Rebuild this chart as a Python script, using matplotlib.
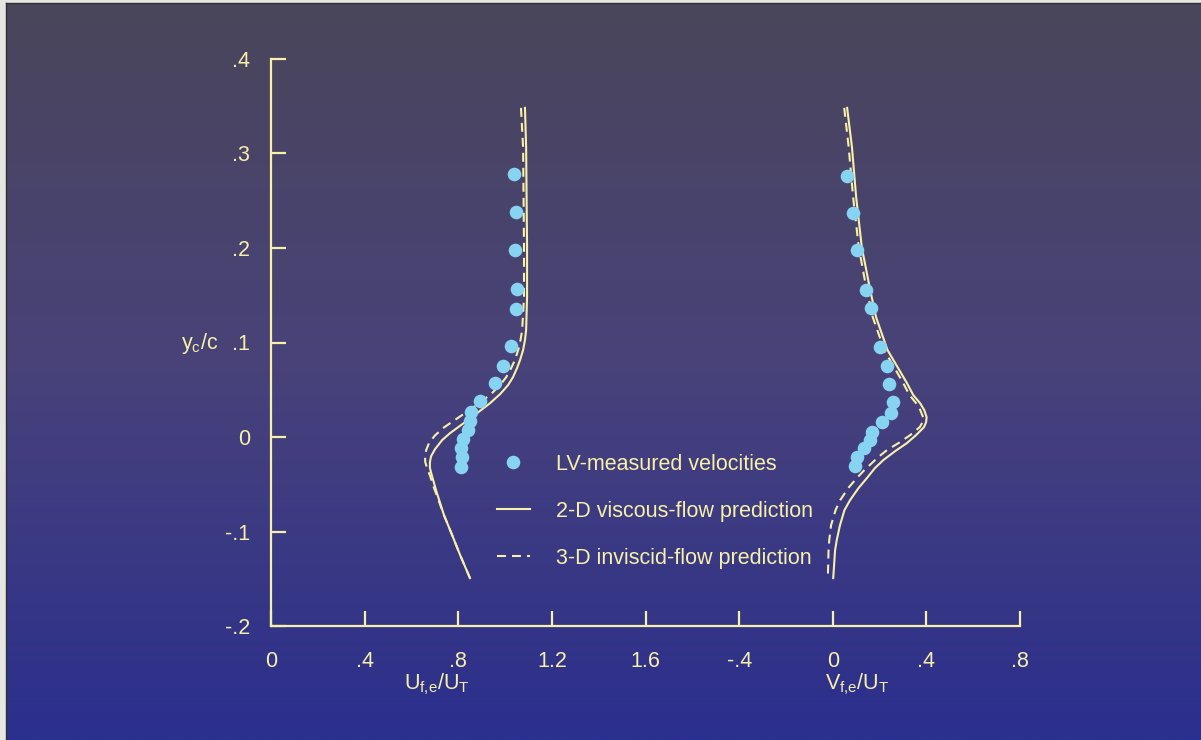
import numpy as np
import matplotlib
matplotlib.use("Agg")
import matplotlib.pyplot as plt
from matplotlib.colors import LinearSegmentedColormap
from matplotlib.lines import Line2D

plt.rcParams['font.family'] = ['Liberation Sans', 'DejaVu Sans']
plt.rcParams['mathtext.fontset'] = 'custom'
plt.rcParams['mathtext.rm'] = 'Liberation Sans'
plt.rcParams['mathtext.it'] = 'Liberation Sans'
plt.rcParams['mathtext.default'] = 'regular'

# ---------------- data ----------------
# LV-measured velocities
meas_y = [0.2777, 0.2375, 0.1974, 0.1564, 0.1353, 0.0962, 0.0754, 0.0568,
          0.0377, 0.0267, 0.0172, 0.0074, -0.0018, -0.0113, -0.0215, -0.0314]
meas_u = [1.040, 1.047, 1.041, 1.053, 1.048, 1.026, 0.993, 0.956,
          0.894, 0.856, 0.850, 0.841, 0.822, 0.812, 0.815, 0.813]
meas_vy = [0.276, 0.237, 0.198, 0.155, 0.136, 0.095, 0.075, 0.056,
           0.037, 0.025, 0.016, 0.005, -0.003, -0.012, -0.021, -0.031]
meas_v = [0.060, 0.086, 0.103, 0.144, 0.164, 0.203, 0.232, 0.242,
          0.257, 0.251, 0.211, 0.168, 0.161, 0.135, 0.103, 0.097]

# 2-D viscous-flow prediction
visc_uy = [0.348, 0.3066, 0.2008, 0.148, 0.1131, 0.1025, 0.092, 0.0814, 0.0729,
           0.0634, 0.055, 0.0455, 0.0359, 0.0285, 0.0211, 0.0127, 0.0042,
           -0.0032, -0.0127, -0.0201, -0.0264, -0.0328, -0.0412, -0.0560,
           -0.0825, -0.1036, -0.1247, -0.149]
visc_u = [1.085, 1.090, 1.094, 1.094, 1.090, 1.085, 1.077, 1.064, 1.051,
          1.034, 1.013, 0.979, 0.936, 0.897, 0.859, 0.812, 0.765,
          0.731, 0.701, 0.684, 0.679, 0.679, 0.688, 0.705,
          0.739, 0.774, 0.808, 0.850]
visc_vy = [0.348, 0.3066, 0.2537, 0.2008, 0.1554, 0.1268, 0.092, 0.0571,
           0.0444, 0.0359, 0.0285, 0.0211, 0.0159, 0.0106, 0.0021, -0.0063,
           -0.0148, -0.0243, -0.0328, -0.0433, -0.0539, -0.0666, -0.0772,
           -0.0930, -0.1089, -0.1195, -0.149]
visc_v = [0.0615, 0.082, 0.100, 0.124, 0.160, 0.185, 0.234, 0.317,
          0.344, 0.373, 0.391, 0.401, 0.399, 0.390, 0.356, 0.317,
          0.267, 0.216, 0.180, 0.146, 0.110, 0.074, 0.050,
          0.031, 0.017, 0.010, 0.002]

# 3-D inviscid-flow prediction
invi_uy = [0.348, 0.3066, 0.2008, 0.148, 0.1131, 0.1025, 0.092, 0.0814, 0.0729,
           0.0634, 0.055, 0.0455, 0.0391, 0.0321, 0.0254, 0.0175, 0.0095,
           0.0016, -0.0063, -0.0137, -0.0201, -0.0264, -0.0328, -0.0412,
           -0.0507, -0.0825, -0.1036, -0.1247, -0.149]
invi_u = [1.068, 1.077, 1.081, 1.081, 1.073, 1.066, 1.056, 1.042, 1.026,
          1.005, 0.979, 0.940, 0.906, 0.868, 0.829, 0.782, 0.735,
          0.700, 0.675, 0.663, 0.658, 0.659, 0.667, 0.680,
          0.692, 0.739, 0.774, 0.808, 0.850]
invi_vy = [0.348, 0.3066, 0.2537, 0.2008, 0.1554, 0.1268, 0.092, 0.0571,
           0.0444, 0.0359, 0.0285, 0.0211, 0.0159, 0.0106, 0.0021, -0.0063,
           -0.0137, -0.0206, -0.0275, -0.0354, -0.0433, -0.0539, -0.0666,
           -0.0772, -0.0930, -0.1089, -0.1195, -0.149]
invi_v = [0.049, 0.068, 0.087, 0.111, 0.145, 0.171, 0.220, 0.301,
          0.328, 0.356, 0.374, 0.386, 0.384, 0.372, 0.331, 0.281,
          0.232, 0.197, 0.167, 0.133, 0.103, 0.066, 0.032,
          0.012, -0.007, -0.015, -0.018, -0.021]

x_ticklabels = ['0', '.4', '.8', '1.2', '1.6', '-.4', '0', '.4', '.8']
y_ticklabels = ['-.2', '-.1', '0', '.1', '.2', '.3', '.4']
V_OFFSET = 2.4  # V panel shares the axis, shifted right

# ---------------- styling ----------------
W, H = 1201, 740
CREAM = '#f7f0a8'
DOT = '#86d3f2'
FS = 15.5

fig = plt.figure(figsize=(W / 100, H / 100), dpi=100)
fig.patch.set_facecolor('#e6e6e2')

# gradient background panel
bg = fig.add_axes([6 / W, 0, (W - 6) / W, (H - 3) / H])
bg.set_axis_off()
cmap = LinearSegmentedColormap.from_list(
    'bg', [(0.0, (74/255, 70/255, 90/255)),
           (0.5, (72/255, 66/255, 122/255)),
           (1.0, (43/255, 47/255, 142/255))])
grad = np.linspace(0, 1, 256).reshape(-1, 1)
bg.imshow(grad, aspect='auto', cmap=cmap, extent=[0, 1, 0, 1], origin='upper')
bg.set_xlim(0, 1)
bg.set_ylim(0, 1)
fig.add_artist(Line2D([6 / W, 6 / W], [0, (H - 3) / H], color='#303030', lw=1.0))
fig.add_artist(Line2D([6 / W, 1], [(H - 3) / H, (H - 3) / H], color='#303030', lw=1.0))

left, right = 271 / W, 1020 / W
bottom, top = (H - 626.3) / H, (H - 58.7) / H
ax = fig.add_axes([left, bottom, right - left, top - bottom])
ax.patch.set_alpha(0)
ax.set_xlim(0, 3.2)
ax.set_ylim(-0.2, 0.4)

for s in ['top', 'right']:
    ax.spines[s].set_visible(False)
for s in ['left', 'bottom']:
    ax.spines[s].set_color(CREAM)
    ax.spines[s].set_linewidth(1.6)

ax.set_xticks(np.arange(0, 3.21, 0.4))
ax.set_xticklabels(x_ticklabels)
ax.set_yticks(np.arange(-0.2, 0.41, 0.1))
ax.set_yticklabels(y_ticklabels)
ax.tick_params(axis='both', direction='in', length=11, width=1.6, color=CREAM,
               labelcolor=CREAM, labelsize=FS)
ax.tick_params(axis='x', pad=18)
ax.tick_params(axis='y', pad=15)

LW = 1.5
DASH = (4.3, 2.9)
kw = dict(solid_joinstyle='round', dash_joinstyle='round')

# U panel
ax.plot(visc_u, visc_uy, color=CREAM, lw=LW, **kw)
ax.plot(invi_u, invi_uy, color=CREAM, lw=LW, dashes=DASH, **kw)
ax.plot(meas_u, meas_y, 'o', color=DOT, ms=9.8, mec='none')

# V panel
ax.plot(np.array(visc_v) + V_OFFSET, visc_vy, color=CREAM, lw=LW, **kw)
ax.plot(np.array(invi_v) + V_OFFSET, invi_vy, color=CREAM, lw=LW, dashes=DASH, **kw)
ax.plot(np.array(meas_v) + V_OFFSET, meas_vy, 'o', color=DOT, ms=9.8, mec='none')

# legend
handles = [Line2D([], [], ls='none', marker='o', color=DOT, ms=9.8, mec='none'),
           Line2D([], [], color=CREAM, lw=LW),
           Line2D([], [], color=CREAM, lw=LW, dashes=DASH)]
labels = ['LV-measured velocities', '2-D viscous-flow prediction',
          '3-D inviscid-flow prediction']
leg = fig.legend(handles, labels, loc='upper left',
                 bbox_to_anchor=(497 / W, 1 - 454 / H), frameon=False,
                 fontsize=FS, labelcolor=CREAM, handlelength=1.53,
                 handletextpad=1.2, labelspacing=1.2, borderpad=0,
                 borderaxespad=0, numpoints=1)

# axis labels
fig.text(437 / W, 1 - 684 / H, r'U$_{f{,}e}$/U$_{T}$', color=CREAM, fontsize=FS,
         ha='center', va='center')
fig.text(857 / W, 1 - 684 / H, r'V$_{f{,}e}$/U$_{T}$', color=CREAM, fontsize=FS,
         ha='center', va='center')
fig.text(218 / W, 1 - 343 / H, r'y$_{c}$/c', color=CREAM, fontsize=FS,
         ha='right', va='center')

fig.savefig('out.png', dpi=100, facecolor=fig.get_facecolor())
